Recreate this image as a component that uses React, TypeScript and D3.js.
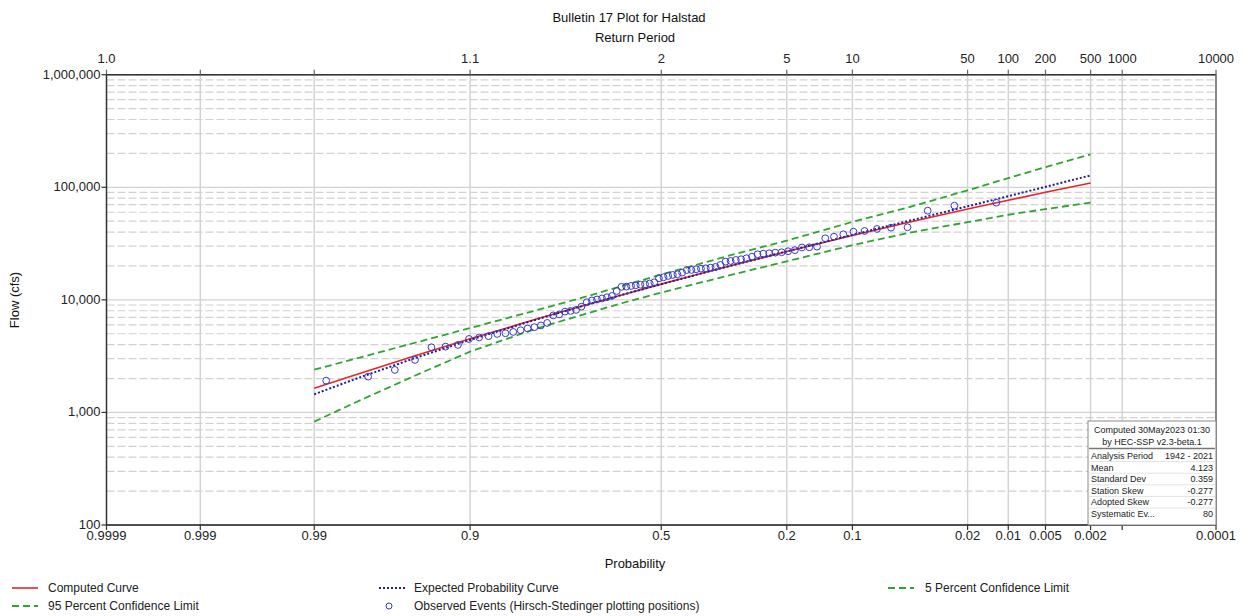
import { useMemo } from "react";
import * as d3 from "d3";

// exceedance probabilities the fitted curves are listed at
const curveProbs = [0.99, 0.98, 0.95, 0.9, 0.8, 0.7, 0.6, 0.5, 0.4, 0.3, 0.2, 0.1, 0.05, 0.02, 0.01, 0.005, 0.002];
const computedCurve = [1641, 2155, 3203, 4505, 6711, 8861, 11166, 13790, 16944, 21015, 26850, 37250, 48310, 64000, 76700, 90160, 109000];
const expectedCurve = [1450, 1975, 3060, 4405, 6665, 8845, 11160, 13790, 16960, 21050, 26960, 37770, 49740, 67750, 83340, 100900, 127500];
const upper5 = [2400, 2990, 4180, 5620, 8050, 10500, 13400, 16800, 20800, 26200, 33600, 49200, 65500, 94000, 120500, 151000, 196000];
const lower95 = [828, 1220, 2140, 3467, 5530, 7400, 9425, 11590, 14130, 17370, 22000, 30600, 39000, 49000, 57000, 64000, 73000];

// observed annual peaks, ranked largest first (1942 - 2021)
const observed = [
  72970, 68630, 61970, 44140, 43780, 42630, 40920, 40340, 38240, 36410,
  35240, 29680, 29320, 29200, 27630, 27020, 26470, 26260, 25940, 25720,
  25410, 24190, 23410, 22940, 22620, 22160, 21840, 20420, 19600, 19320,
  19080, 18930, 18700, 18430, 18400, 17440, 16880, 16640, 16310, 15870,
  15550, 14330, 13980, 13750, 13620, 13480, 13290, 13100, 13050, 11990,
  10830, 10550, 10290, 10080, 9880, 9520, 8700, 8135, 7970, 7860,
  7420, 7270, 6234, 5925, 5720, 5570, 5370, 5190, 5050, 4980,
  4760, 4636, 4496, 3977, 3841, 3793, 2926, 2385, 2080, 1916,
];

const probTicks = [0.9999, 0.999, 0.99, 0.9, 0.5, 0.2, 0.1, 0.02, 0.01, 0.005, 0.002, 0.001, 0.0001];
const probLabels = ["0.9999", "0.999", "0.99", "0.9", "0.5", "0.2", "0.1", "0.02", "0.01", "0.005", "0.002", "", "0.0001"];
const returnLabels = ["1.0", "", "", "1.1", "2", "5", "10", "50", "100", "200", "500", "1000", "10000"];
const flowTicks = [100, 1000, 10000, 100000, 1000000];

const statsRows: [string, string][] = [
  ["Analysis Period", "1942 - 2021"],
  ["Mean", "4.123"],
  ["Standard Dev", "0.359"],
  ["Station Skew", "-0.277"],
  ["Adopted Skew", "-0.277"],
  ["Systematic Ev...", "80"],
];

const W = 1244;
const H = 616;
const L = 106.5;
const R = 1216;
const T = 74.7;
const B = 525;
const FONT = "'Liberation Sans', Arial, sans-serif";

const RED = "#e3262a";
const NAVY = "#1d1d95";
const GREEN = "#2fa52f";
const CIRCLE = "#3a3ac8";
const GRID = "#d2d2d2";

// inverse standard normal (Acklam)
function invNorm(p: number) {
  const a = [-39.69683028665376, 220.9460984245205, -275.9285104469687, 138.357751867269, -30.66479806614716, 2.506628277459239];
  const b = [-54.47609879822406, 161.5858368580409, -155.6989798598866, 66.80131188771972, -13.28068155288572];
  const c = [-0.007784894002430293, -0.3223964580411365, -2.400758277161838, -2.549732539343734, 4.374664141464968, 2.938163982698783];
  const d = [0.007784695709041462, 0.3224671290700398, 2.445134137142996, 3.754408661907416];
  const pl = 0.02425;
  if (p < pl) {
    const q = Math.sqrt(-2 * Math.log(p));
    return (((((c[0] * q + c[1]) * q + c[2]) * q + c[3]) * q + c[4]) * q + c[5]) / ((((d[0] * q + d[1]) * q + d[2]) * q + d[3]) * q + 1);
  }
  if (p > 1 - pl) {
    const q = Math.sqrt(-2 * Math.log(1 - p));
    return -(((((c[0] * q + c[1]) * q + c[2]) * q + c[3]) * q + c[4]) * q + c[5]) / ((((d[0] * q + d[1]) * q + d[2]) * q + d[3]) * q + 1);
  }
  const q = p - 0.5;
  const r = q * q;
  return ((((((a[0] * r + a[1]) * r + a[2]) * r + a[3]) * r + a[4]) * r + a[5]) * q) / (((((b[0] * r + b[1]) * r + b[2]) * r + b[3]) * r + b[4]) * r + 1);
}

// exceedance probability -> standard normal variate
const zOf = (p: number) => -invNorm(p);

const App = () => {
  const x = useMemo(() => d3.scaleLinear().domain([zOf(0.9999), zOf(0.0001)]).range([L, R]), []);
  const y = useMemo(() => d3.scaleLog().domain([100, 1000000]).range([B, T]), []);

  const line = d3
    .line<[number, number]>()
    .x((d) => x(zOf(d[0])))
    .y((d) => y(d[1]));

  const paths = useMemo(() => {
    const mk = (vals: number[]) => line(curveProbs.map((p, i) => [p, vals[i]] as [number, number]))!;
    return {
      computed: mk(computedCurve),
      expected: mk(expectedCurve),
      upper: mk(upper5),
      lower: mk(lower95),
    };
  }, []);

  const n = observed.length;
  const points = observed.map((v, i) => ({ p: (i + 1) / (n + 1), v }));

  const minorTicks = y.ticks().filter((t) => !flowTicks.includes(t));
  const fmt = d3.format(",");

  const boxX = 1088;
  const boxY = 421;

  return (
    <svg width={W} height={H} style={{ position: "absolute", left: 0, top: 0, background: "#fff" }} fontFamily={FONT}>
      <rect x={0} y={0} width={W} height={H} fill="#fff" />

      {/* titles */}
      <text x={629} y={21.5} fontSize={13} textAnchor="middle" fill="#111">Bulletin 17 Plot for Halstad</text>
      <text x={635} y={42} fontSize={13} textAnchor="middle" fill="#111">Return Period</text>
      <text x={635} y={568} fontSize={13} textAnchor="middle" fill="#111">Probability</text>
      <text transform={`translate(19,300) rotate(-90)`} fontSize={13} textAnchor="middle" fill="#111">Flow (cfs)</text>

      {/* horizontal grid */}
      {minorTicks.map((t) => (
        <line key={"m" + t} x1={L} x2={R} y1={y(t)} y2={y(t)} stroke={GRID} strokeWidth={1.2} strokeDasharray="8 3" />
      ))}
      {flowTicks.slice(1, -1).map((t) => (
        <line key={"d" + t} x1={L} x2={R} y1={y(t)} y2={y(t)} stroke={GRID} strokeWidth={1.3} />
      ))}

      {/* vertical grid */}
      {probTicks.slice(1, -1).map((p) => (
        <line key={"v" + p} x1={x(zOf(p))} x2={x(zOf(p))} y1={T} y2={B} stroke={GRID} strokeWidth={1.4} />
      ))}

      {/* confidence limits and curves */}
      <path d={paths.upper} fill="none" stroke={GREEN} strokeWidth={1.8} strokeDasharray="7 4" />
      <path d={paths.lower} fill="none" stroke={GREEN} strokeWidth={1.8} strokeDasharray="7 4" />
      <path d={paths.computed} fill="none" stroke={RED} strokeWidth={1.6} />
      <path d={paths.expected} fill="none" stroke={NAVY} strokeWidth={2} strokeDasharray="2 2" />

      {points.map((d, i) => (
        <circle key={i} cx={x(zOf(d.p))} cy={y(d.v)} r={3.4} fill="none" stroke={CIRCLE} strokeWidth={1} />
      ))}

      {/* frame */}
      <rect x={L} y={T} width={R - L} height={B - T} fill="none" stroke="#444" strokeWidth={1} />
      <line x1={L} x2={R} y1={T} y2={T} stroke="#333" strokeWidth={1.5} />
      <line x1={L} x2={R} y1={B} y2={B} stroke="#333" strokeWidth={1.5} />
      <line x1={L} x2={L} y1={T} y2={B} stroke="#333" strokeWidth={1.5} />
      <line x1={R} x2={R} y1={T} y2={B} stroke="#777" strokeWidth={1.2} />

      {/* left axis */}
      {flowTicks.map((t) => (
        <g key={"yl" + t}>
          <line x1={L - 5} x2={L} y1={y(t)} y2={y(t)} stroke="#333" strokeWidth={1.2} />
          <text x={L - 6} y={y(t) + 4} fontSize={13} textAnchor="end" fill="#222">{fmt(t)}</text>
        </g>
      ))}

      {/* bottom and top axes */}
      {probTicks.map((p, i) => {
        const px = x(zOf(p));
        return (
          <g key={"xt" + p}>
            <line x1={px} x2={px} y1={B} y2={B + 5} stroke="#333" strokeWidth={1.2} />
            <line x1={px} x2={px} y1={T - 5} y2={T} stroke="#666" strokeWidth={1.2} />
            {probLabels[i] && (
              <text x={px} y={B + 15} fontSize={13} textAnchor="middle" fill="#222">{probLabels[i]}</text>
            )}
            {returnLabels[i] && (
              <text x={px} y={T - 12} fontSize={13} textAnchor="middle" fill="#222">{returnLabels[i]}</text>
            )}
          </g>
        );
      })}

      {/* statistics box */}
      <g fontSize={9} fill="#222">
        <rect x={boxX} y={boxY} width={R - boxX} height={B - boxY} fill="#fff" stroke="#8a8a8a" strokeWidth={1} />
        <text x={(boxX + R) / 2} y={boxY + 12} textAnchor="middle">Computed 30May2023 01:30</text>
        <text x={(boxX + R) / 2} y={boxY + 23.5} textAnchor="middle">by HEC-SSP v2.3-beta.1</text>
        <line x1={boxX + 1} x2={R - 1} y1={boxY + 27.5} y2={boxY + 27.5} stroke="#777" strokeWidth={1.5} />
        {statsRows.map(([k, v], i) => (
          <g key={k}>
            {i > 0 && (
              <line x1={boxX + 1} x2={R - 1} y1={boxY + 29 + i * 11.6} y2={boxY + 29 + i * 11.6} stroke="#e4e4e4" strokeWidth={1} />
            )}
            <text x={boxX + 3} y={boxY + 38 + i * 11.6}>{k}</text>
            <text x={R - 3} y={boxY + 38 + i * 11.6} textAnchor="end">{v}</text>
          </g>
        ))}
      </g>

      {/* legend */}
      <g fontSize={12} fill="#222">
        <line x1={12} x2={38} y1={588} y2={588} stroke={RED} strokeWidth={1.6} />
        <text x={48} y={592}>Computed Curve</text>
        <line x1={12} x2={38} y1={606} y2={606} stroke={GREEN} strokeWidth={1.8} strokeDasharray="7 4" />
        <text x={48} y={610}>95 Percent Confidence Limit</text>

        <line x1={379} x2={405} y1={588} y2={588} stroke={NAVY} strokeWidth={2} strokeDasharray="2 2" />
        <text x={414} y={592}>Expected Probability Curve</text>
        <circle cx={389} cy={606} r={3} fill="none" stroke={CIRCLE} strokeWidth={1} />
        <text x={414} y={610}>Observed Events (Hirsch-Stedinger plotting positions)</text>

        <line x1={888} x2={914} y1={588} y2={588} stroke={GREEN} strokeWidth={1.8} strokeDasharray="7 4" />
        <text x={925} y={592}>5 Percent Confidence Limit</text>
      </g>
    </svg>
  );
};

export default App;
